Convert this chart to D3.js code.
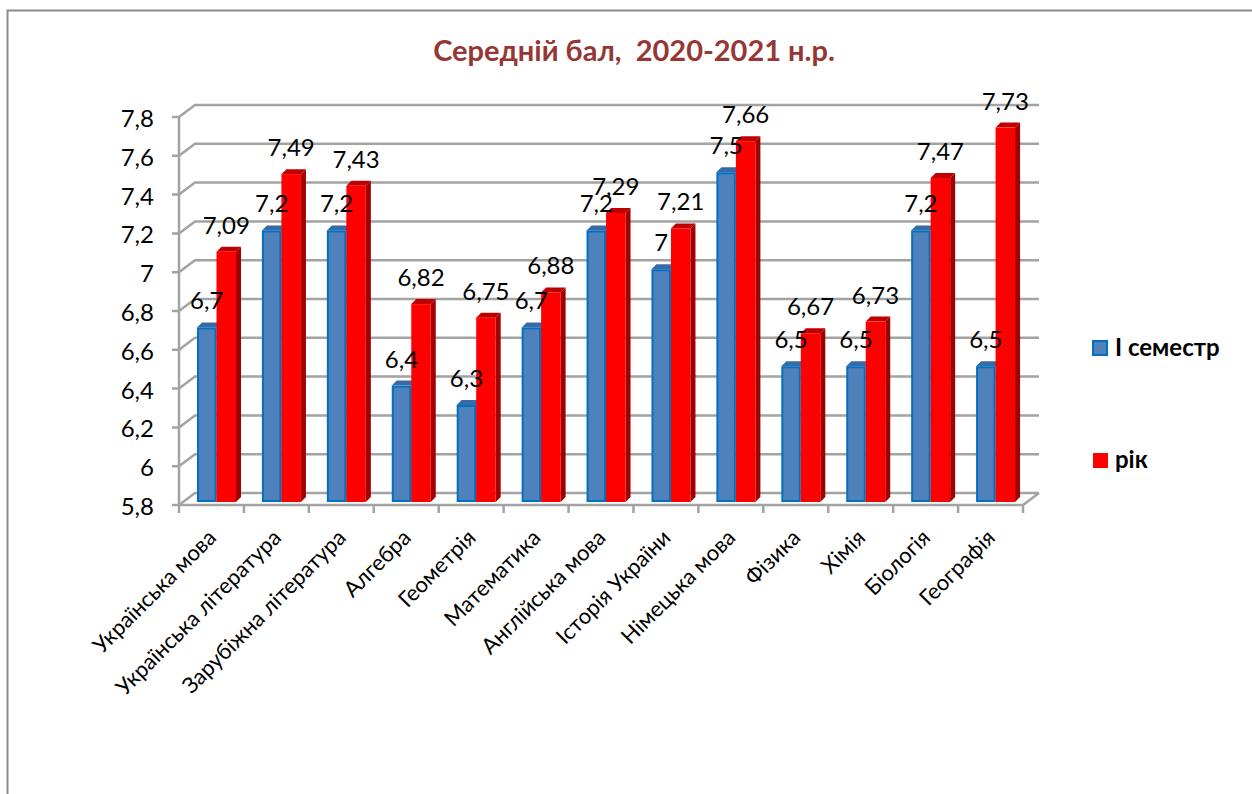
<!DOCTYPE html>
<html>
<head>
<meta charset="utf-8">
<script src="https://cdn.jsdelivr.net/npm/d3@7"></script>
<style>
	html, body { margin: 0; padding: 0; background: #fff; }
	text { font-family: Lato, "Open Sans", sans-serif; }
</style>
</head>
<body>
<div id="chart"></div>
<script>
var subjects = ["Українська мова", "Українська література", "Зарубіжна література", "Алгебра", "Геометрія", "Математика", "Англійська мова", "Історія України", "Німецька мова", "Фізика", "Хімія", "Біологія", "Географія"];
var semester = [6.7, 7.2, 7.2, 6.4, 6.3, 6.7, 7.2, 7, 7.5, 6.5, 6.5, 7.2, 6.5];
var year = [7.09, 7.49, 7.43, 6.82, 6.75, 6.88, 7.29, 7.21, 7.66, 6.67, 6.73, 7.47, 7.73];
var yTicks = [5.8, 6, 6.2, 6.4, 6.6, 6.8, 7, 7.2, 7.4, 7.6, 7.8];
var seriesNames = ["І семестр", "рік"];

var width = 1252;
var height = 794;

// Front plane of the 3D box
var left = 179, right = 1023, top_ = 117, bottom = 505;
// Offset of the back wall
var wallX = 16, wallY = 12;
// Bars stand slightly behind the front edge
var barLift = 3;
// Depth of each bar
var depthX = 5, depthY = 5;

var gridColor = "#a3a3a3";

var svg = d3.select("#chart")
	.append("svg")
	.attr("width", width)
	.attr("height", height);

var y = d3.scaleLinear().domain([5.8, 7.8]).range([bottom, top_]);
var x = d3.scaleBand().domain(subjects).range([left, right]);
var seriesX = d3.scaleBand().domain([0, 1]).range([18, 57]);

function comma(v) {
	return String(v).replace(".", ",");
}

// Outer frame, only top and left are visible
svg.append("path")
	.attr("d", "M7.5,794V10.5H1252")
	.attr("fill", "none")
	.attr("stroke", "#8c8c8c")
	.attr("stroke-width", 2);

// Title
svg.append("text")
	.attr("x", 634)
	.attr("y", 61)
	.attr("text-anchor", "middle")
	.attr("font-size", 29)
	.attr("font-weight", "bold")
	.attr("fill", "#953735")
	.attr("xml:space", "preserve")
	.style("white-space", "pre")
	.text("Середній бал,  2020-2021 н.р.");

// Wall grid lines
var grid = svg.append("g")
	.attr("fill", "none")
	.attr("stroke", gridColor)
	.attr("stroke-width", 2.5);

grid.selectAll("path.grid")
	.data(yTicks)
	.enter()
	.append("path")
	.attr("class", "grid")
	.attr("d", function(d) {
		return "M" + (left - 7) + "," + y(d) + "H" + left + "L" + (left + wallX) + "," + (y(d) - wallY) + "H" + (right + wallX);
	});

// Floor and axes
grid.append("path")
	.attr("d", "M" + left + "," + top_ + "V" + (bottom + 8));
grid.append("path")
	.attr("d", "M" + left + "," + bottom + "H" + right + "L" + (right + wallX) + "," + (bottom - wallY));
grid.selectAll("path.xtick")
	.data(subjects)
	.enter()
	.append("path")
	.attr("class", "xtick")
	.attr("d", function(d) {
		return "M" + (x(d) + x.bandwidth()) + "," + bottom + "v8";
	});

// Y tick labels
svg.selectAll("text.ylabel")
	.data(yTicks)
	.enter()
	.append("text")
	.attr("class", "ylabel")
	.attr("x", 154)
	.attr("y", function(d) { return y(d) + 10; })
	.attr("text-anchor", "end")
	.attr("font-size", 24)
	.attr("fill", "#000")
	.text(comma);

// One 3D bar: side, top and front face
function drawBar(g, x0, w, v, colors) {
	var yb = y(5.8) - barLift;
	var yt = y(v) - barLift;
	g.append("polygon")
		.attr("points", [[x0 + w, yt], [x0 + w + depthX, yt - depthY], [x0 + w + depthX, yb - depthY], [x0 + w, yb]].join(" "))
		.attr("fill", colors.side);
	g.append("polygon")
		.attr("points", [[x0, yt], [x0 + depthX, yt - depthY], [x0 + w + depthX, yt - depthY], [x0 + w, yt]].join(" "))
		.attr("fill", colors.top);
	g.append("rect")
		.attr("x", x0 + colors.inset)
		.attr("y", yt + colors.inset)
		.attr("width", w - 2 * colors.inset)
		.attr("height", yb - yt - 2 * colors.inset)
		.attr("fill", colors.front)
		.attr("stroke", colors.stroke)
		.attr("stroke-width", colors.inset * 2);
}

var blue = { front: "#4f81bd", top: "#376aa6", side: "#2f5f96", stroke: "#0070c0", inset: 1 };
var red = { front: "#ff0000", top: "#c00000", side: "#a00000", stroke: "none", inset: 0 };

var bars = svg.append("g");
subjects.forEach(function(s, i) {
	var g = bars.append("g");
	drawBar(g, x(s) + seriesX(0), seriesX.bandwidth(), semester[i], blue);
	drawBar(g, x(s) + seriesX(1), seriesX.bandwidth(), year[i], red);
});

// Value labels on top of everything
function valueLabels(values, idx) {
	svg.append("g")
		.selectAll("text")
		.data(values)
		.enter()
		.append("text")
		.attr("x", function(d, i) { return x(subjects[i]) + seriesX(idx) + seriesX.bandwidth() / 2; })
		.attr("y", function(d) { return y(d) - barLift - 18; })
		.attr("text-anchor", "middle")
		.attr("font-size", 24)
		.attr("fill", "#000")
		.text(comma);
}
valueLabels(semester, 0);
valueLabels(year, 1);

// Category labels
svg.append("g")
	.selectAll("text")
	.data(subjects)
	.enter()
	.append("text")
	.attr("transform", function(d) {
		return "translate(" + (x(d) + x.bandwidth() / 2 + 6) + ",539) rotate(-45)";
	})
	.attr("text-anchor", "end")
	.attr("font-size", 22)
	.attr("fill", "#000")
	.text(function(d) { return d; });

// Legend
svg.append("rect")
	.attr("x", 1093).attr("y", 341).attr("width", 14).attr("height", 14)
	.attr("fill", blue.front).attr("stroke", blue.stroke).attr("stroke-width", 2);
svg.append("rect")
	.attr("x", 1093).attr("y", 453).attr("width", 15).attr("height", 15)
	.attr("fill", red.front);

svg.selectAll("text.legend")
	.data(seriesNames)
	.enter()
	.append("text")
	.attr("class", "legend")
	.attr("x", 1115)
	.attr("y", function(d, i) { return i === 0 ? 356 : 468; })
	.attr("font-size", 24)
	.attr("font-weight", "bold")
	.attr("fill", "#000")
	.text(function(d) { return d; });
</script>
</body>
</html>
